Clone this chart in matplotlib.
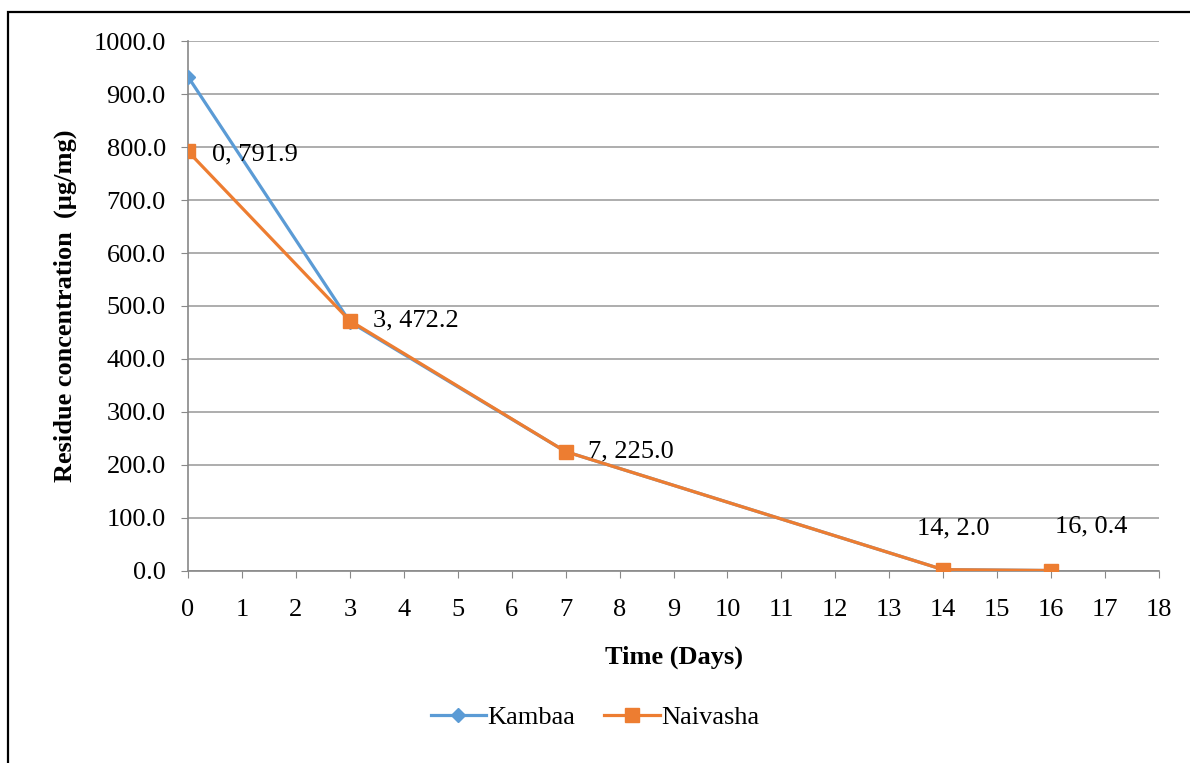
import matplotlib.pyplot as plt
from matplotlib.patches import Rectangle

days = [0, 3, 7, 14, 16]
kambaa = [932.9, 470.0, 225.0, 2.0, 0.4]
naivasha = [791.9, 472.2, 225.0, 2.0, 0.4]

plt.rcParams['font.family'] = ['Liberation Serif', 'DejaVu Serif']

fig = plt.figure(figsize=(11.9, 7.63), dpi=100)
ax = fig.add_axes([0.158, 0.252, 0.816, 0.694])

# outer frame of the chart area
fig.patches.append(Rectangle((8 / 1190, -0.1), 1.2, 1 - 12 / 763 + 0.1,
                             transform=fig.transFigure, fill=False,
                             edgecolor='black', linewidth=1.6))

ax.plot(days, kambaa, color='#5b9bd5', linewidth=2.3, marker='D',
        markersize=7, label='Kambaa', zorder=3)
ax.plot(days, naivasha, color='#ed7d31', linewidth=2.3, marker='s',
        markersize=10, label='Naivasha', zorder=4)

# value labels for Naivasha
offsets = [(17, -2, 'left'), (17, 0, 'left'), (16, 0, 'left'),
           (7, 30, 'center'), (3, 32, 'left')]
for x, y, (dx, dy, ha) in zip(days, naivasha, offsets):
    ax.annotate(f'{x}, {y:.1f}', (x, y), xytext=(dx, dy),
                textcoords='offset points', fontsize=19, va='center', ha=ha)

ax.set_xlim(0, 18)
ax.set_ylim(0, 1000)
ax.set_xticks(range(0, 19))
ax.set_yticks(range(0, 1001, 100))
ax.set_yticklabels([f'{v:.1f}' for v in range(0, 1001, 100)])
ax.tick_params(labelsize=19, colors='#888888', labelcolor='black', length=5)
ax.tick_params(axis='x', pad=15)
ax.tick_params(axis='y', pad=11)
ax.grid(axis='y', color='#a0a0a0', linewidth=1.2)
ax.set_axisbelow(True)
for side in ['top', 'right']:
    ax.spines[side].set_visible(False)
for side in ['left', 'bottom']:
    ax.spines[side].set_color('#888888')
    ax.spines[side].set_linewidth(1.2)

ax.set_xlabel('Time (Days)', fontsize=19, fontweight='bold', labelpad=18)
ax.set_ylabel('Residue concentration  (µg/mg)', fontsize=19,
              fontweight='bold', labelpad=12)

fig.legend(loc='center', bbox_to_anchor=(0.5, 0.06), ncol=2, frameon=False,
           fontsize=19, handlelength=2.1, columnspacing=1.1,
           handletextpad=0.05)

fig.savefig('out.png', dpi=100)
